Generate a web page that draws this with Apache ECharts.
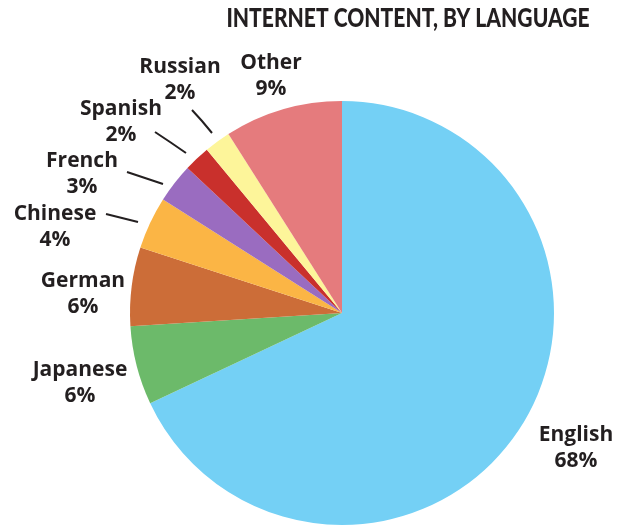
<!DOCTYPE html>
<html>
<head>
<meta charset="utf-8">
<script src="https://cdn.jsdelivr.net/npm/echarts@6/dist/echarts.min.js"></script>
<style>
html,body{margin:0;padding:0;background:#fff;}
#chart{width:619px;height:531px;}
</style>
</head>
<body>
<div id="chart"></div>
<script>
// Data (clockwise from top)
var categories = ['English', 'Japanese', 'German', 'Chinese', 'French', 'Spanish', 'Russian', 'Other'];
var shares = [68, 6, 6, 4, 3, 2, 2, 9];
var sliceColors = ['#74d0f5', '#6cba6a', '#cc6d38', '#fbb545', '#9a6cc0', '#c9302c', '#fdf59a', '#e57b7d'];
var titleText = 'INTERNET CONTENT, BY LANGUAGE';

// Label placement (text block centres) and leader lines
var labelPos = [
  [576, 448], [80, 383], [83, 294], [55, 227],
  [82, 174], [121, 122], [180, 80], [271, 76]
];
var leaderLines = [
  null, null, null,
  [[138, 222], [122, 218], [106, 214]],
  [[163, 184], [145, 178], [127, 172]],
  [[186, 153], [170, 142], [155, 132]],
  [[212, 133], [202, 121], [192, 110]],
  null
];

var chart = echarts.init(document.getElementById('chart'), null, {renderer: 'canvas'});
var data = categories.map(function (c, i) {
  return {
    name: c,
    value: shares[i],
    itemStyle: {color: sliceColors[i]},
    labelLine: {show: !!leaderLines[i]}
  };
});

chart.setOption({
  animation: false,
  graphic: [{
    type: 'text',
    x: 408,
    y: 19,
    scaleX: 0.81,
    style: {
      text: titleText,
      font: '900 26px "Lato", sans-serif',
      fill: '#231f20',
      align: 'center',
      verticalAlign: 'middle'
    }
  }],
  series: [{
    type: 'pie',
    center: [342, 313],
    radius: 212,
    startAngle: 90,
    clockwise: true,
    data: data,
    itemStyle: {borderWidth: 0},
    label: {
      show: true,
      position: 'outside',
      formatter: '{b}\n{c}%',
      fontFamily: 'Open Sans',
      fontWeight: 'bold',
      fontSize: 21,
      lineHeight: 26,
      color: '#231f20',
      align: 'center',
      overflow: 'none',
      width: 130
    },
    labelLine: {
      lineStyle: {color: '#231f20', width: 2},
      length: 10,
      length2: 10
    },
    labelLayout: function (p) {
      var i = p.dataIndex;
      var out = {
        x: labelPos[i][0],
        y: labelPos[i][1],
        align: 'center',
        verticalAlign: 'middle'
      };
      if (leaderLines[i]) out.labelLinePoints = leaderLines[i];
      return out;
    }
  }]
});
</script>
</body>
</html>
